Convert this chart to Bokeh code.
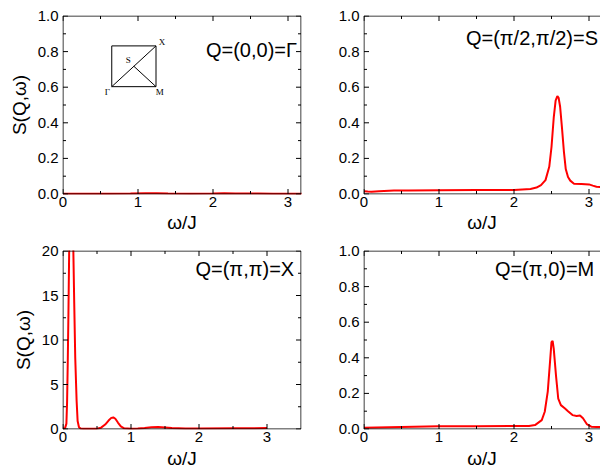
from bokeh.plotting import figure
from bokeh.layouts import column, row
from bokeh.models import FixedTicker, NumeralTickFormatter, Label, Range1d
from bokeh.embed import file_html
from bokeh.resources import INLINE
from bokeh.core.properties import value

# ---------------- data ----------------
# Q = (0,0) = Gamma
w_gamma = [0.0, 0.3, 0.6, 0.9, 1.1, 1.25, 1.4, 1.7, 2.0, 2.15, 2.3, 2.6, 2.8, 3.0, 3.19]
s_gamma = [0.001, 0.001, 0.002, 0.003, 0.004, 0.004, 0.003, 0.002, 0.003, 0.004,
           0.003, 0.003, 0.002, 0.002, 0.002]

# Q = (pi/2, pi/2) = S
w_s = [0.0, 0.05, 0.1, 0.2, 0.4, 0.6, 1.0, 1.5, 2.0, 2.22, 2.3, 2.36, 2.42, 2.47, 2.5,
       2.53, 2.555, 2.578, 2.595, 2.615, 2.64, 2.665, 2.69, 2.72, 2.75, 2.8, 2.9, 3.0,
       3.05, 3.1, 3.16]
s_s = [0.016, 0.014, 0.013, 0.016, 0.019, 0.020, 0.021, 0.022, 0.023, 0.028, 0.036, 0.050,
       0.078, 0.153, 0.264, 0.43, 0.525, 0.55, 0.54, 0.49, 0.37, 0.24, 0.14, 0.095, 0.075,
       0.058, 0.056, 0.054, 0.047, 0.041, 0.038]

# Q = (pi, pi) = X
w_x = [0.0, 0.03, 0.05, 0.06, 0.07, 0.08, 0.09, 0.12, 0.15, 0.165, 0.18, 0.2, 0.215,
       0.235, 0.26, 0.3, 0.4, 0.5, 0.56, 0.62, 0.67, 0.71, 0.74, 0.77, 0.81, 0.85, 0.9,
       1.0, 1.1, 1.2, 1.3, 1.4, 1.5, 1.6, 1.8, 2.0, 2.5, 3.0]
s_x = [0.05, 0.1, 0.6, 3.0, 7.5, 13.0, 19.5, 35.0, 21.0, 14.2, 8.0, 3.2, 0.9, 0.2, 0.05,
       0.02, 0.02, 0.04, 0.15, 0.5, 0.95, 1.25, 1.3, 1.15, 0.7, 0.3, 0.08, 0.03, 0.05,
       0.12, 0.2, 0.22, 0.17, 0.1, 0.06, 0.06, 0.08, 0.1]

# Q = (pi, 0) = M
w_m = [0.0, 0.5, 1.0, 1.5, 2.0, 2.2, 2.28, 2.37, 2.41, 2.45, 2.48, 2.5, 2.515, 2.53,
       2.56, 2.59, 2.625, 2.68, 2.72, 2.78, 2.835, 2.88, 2.92, 2.97, 3.03, 3.1, 3.16]
s_m = [0.007, 0.011, 0.015, 0.016, 0.017, 0.017, 0.022, 0.05, 0.097, 0.21, 0.376, 0.488,
       0.495, 0.45, 0.30, 0.17, 0.134, 0.115, 0.10, 0.078, 0.073, 0.076, 0.06, 0.028,
       0.013, 0.011, 0.011]

titles = ["Q=(0,0)=\u0393", "Q=(\u03c0/2,\u03c0/2)=S", "Q=(\u03c0,\u03c0)=X", "Q=(\u03c0,0)=M"]

# tick positions
x_major = [0, 1, 2, 3]
x_minor = [0.5, 1.5, 2.5]
y_major = [0.0, 0.2, 0.4, 0.6, 0.8, 1.0]
y_minor = [0.1, 0.3, 0.5, 0.7, 0.9]
y_major_x = [0, 5, 10, 15, 20]
y_minor_x = [2.5, 7.5, 12.5, 17.5]

# Brillouin-zone inset (Gamma, M, X corners and S midpoint), in panel data units
bz_x = [0.65, 1.24, 1.24, 0.65, 0.65]
bz_y = [0.603, 0.603, 0.832, 0.832, 0.603]
diag_x = [0.65, 1.24]
diag_y = [0.603, 0.832]
sm_x = [0.945, 1.24]
sm_y = [0.7175, 0.603]
bz_lab = ["\u0393", "M", "X", "S"]
bz_lab_x = [0.59, 1.29, 1.32, 0.87]
bz_lab_y = [0.575, 0.575, 0.855, 0.755]

FONT = "Liberation Sans"
RED = "#ff0000"
FRAME_H = 179


def panel(width, height, mbl, mbr, mbt, mbb, frame_w, xmax, ymax, xmaj, ymaj,
          yfmt, ylabel, xlab_standoff):
    sx = (frame_w - 1) / xmax
    sy = (FRAME_H - 1) / ymax
    p = figure(width=width, height=height,
               x_range=Range1d(-0.5 / sx, xmax + 0.5 / sx),
               y_range=Range1d(-0.5 / sy, ymax + 0.5 / sy),
               min_border_left=mbl, min_border_right=mbr, min_border_top=mbt,
               min_border_bottom=mbb, output_backend="svg", toolbar_location=None)
    p.grid.visible = False
    p.outline_line_color = None
    xa, ya = p.xaxis[0], p.yaxis[0]
    xa.ticker = FixedTicker(ticks=xmaj)
    ya.ticker = FixedTicker(ticks=ymaj)
    for ax in (xa, ya):
        ax.axis_line_color = None
        ax.major_tick_line_color = None
        ax.minor_tick_line_color = None
        ax.major_tick_in = 0
        ax.major_tick_out = 0
        ax.minor_tick_in = 0
        ax.minor_tick_out = 0
        ax.major_label_text_font = FONT
        ax.major_label_text_font_size = "15px"
        ax.major_label_text_color = "black"
        ax.axis_label_text_font = FONT
        ax.axis_label_text_font_size = "19px"
        ax.axis_label_text_font_style = "normal"
        ax.axis_label_text_color = "black"
    xa.major_label_standoff = 2
    ya.major_label_standoff = 4
    xa.axis_label = "\u03c9/J"
    xa.axis_label_standoff = xlab_standoff
    if yfmt:
        ya.formatter = NumeralTickFormatter(format="0.0")
    if ylabel:
        ya.axis_label = "S(Q,\u03c9)"
        ya.axis_label_standoff = 5
    return p, sx, sy


def frame(p, sx, sy, xmax, ymax, xmaj, xmin, ymaj, ymin, right_edge):
    xr = xmax if right_edge else xmax + 1.0
    kw = dict(line_color="black", line_width=1)
    p.line([0, xr], [0, 0], **kw)
    p.line([0, xr], [ymax, ymax], **kw)
    p.line([0, 0], [0, ymax], **kw)
    if right_edge:
        p.line([xmax, xmax], [0, ymax], **kw)
    for ticks, ln in ((xmaj, 5), (xmin, 3)):
        p.segment(x0=ticks, y0=[0] * len(ticks), x1=ticks, y1=[ln / sy] * len(ticks), **kw)
        p.segment(x0=ticks, y0=[ymax] * len(ticks), x1=ticks,
                  y1=[ymax - ln / sy] * len(ticks), **kw)
    for ticks, ln in ((ymaj, 5), (ymin, 3)):
        p.segment(x0=[0] * len(ticks), y0=ticks, x1=[ln / sx] * len(ticks), y1=ticks, **kw)
        if right_edge:
            p.segment(x0=[xmax] * len(ticks), y0=ticks, x1=[xmax - ln / sx] * len(ticks),
                      y1=ticks, **kw)


def title(p, x, y, text):
    p.add_layout(Label(x=x, y=y, text=text, text_align="right", text_baseline="middle",
                       text_font=FONT, text_font_size="20px", text_color="black"))


# top-left: Gamma
XMAX_TL, XMAX_R, XMAX_BL = 238 / 75, 236 / 75, 3.5
p1, sx1, sy1 = panel(302, 243, 62, 1, 15, 49, 239, XMAX_TL, 1.0, x_major, y_major,
                     True, True, 2)
p1.line(w_gamma, s_gamma, line_color=RED, line_width=2)
frame(p1, sx1, sy1, XMAX_TL, 1.0, x_major, x_minor, y_major, y_minor, True)
title(p1, 3.12, 0.81, titles[0])
p1.line(bz_x, bz_y, line_color="black", line_width=1)
p1.line(diag_x, diag_y, line_color="black", line_width=1)
p1.line(sm_x, sm_y, line_color="black", line_width=1)
p1.text(bz_lab_x, bz_lab_y, text=bz_lab, text_font=value("Liberation Serif"),
        text_font_size="9px", text_align="center", text_baseline="middle", text_color="black")

# top-right: S
p2, sx2, sy2 = panel(298, 243, 61, 0, 15, 49, 237, XMAX_R, 1.0, x_major, y_major,
                     True, False, 2)
p2.line(w_s, s_s, line_color=RED, line_width=2)
frame(p2, sx2, sy2, XMAX_R, 1.0, x_major, x_minor, y_major, y_minor, False)
title(p2, 3.12, 0.877, titles[1])

# bottom-left: X
p3, sx3, sy3 = panel(302, 230, 62, 1, 7, 44, 239, XMAX_BL, 20.0, x_major, y_major_x,
                     False, True, 3)
p3.line(w_x, s_x, line_color=RED, line_width=2)
frame(p3, sx3, sy3, XMAX_BL, 20.0, x_major, x_minor, y_major_x, y_minor_x, True)
title(p3, 3.40, 18.0, titles[2])

# bottom-right: M
p4, sx4, sy4 = panel(298, 230, 61, 0, 7, 44, 237, XMAX_R, 1.0, x_major, y_major,
                     True, False, 3)
p4.line(w_m, s_m, line_color=RED, line_width=2)
frame(p4, sx4, sy4, XMAX_R, 1.0, x_major, x_minor, y_major, y_minor, False)
title(p4, 3.07, 0.9, titles[3])

layout = column(row(p1, p2), row(p3, p4))
open("out.html", "w").write(file_html(layout, INLINE))
